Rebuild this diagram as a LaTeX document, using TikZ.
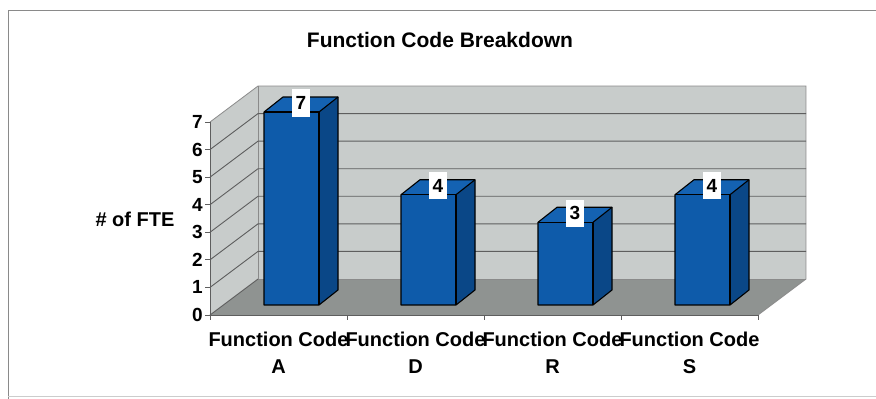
\documentclass[tikz,border=0pt]{standalone}
\usepackage{fontspec}
\setmainfont{Liberation Sans}
\definecolor{wallgray}{HTML}{C8CCCB}
\definecolor{floorgray}{HTML}{8F9391}
\definecolor{gridgray}{HTML}{5E5E5E}
\definecolor{barfront}{HTML}{0E5BAA}
\definecolor{barside}{HTML}{0A4787}
\definecolor{bartop}{HTML}{1462B2}
\definecolor{framegray}{HTML}{8A8A8A}
\tikzset{
  lbl/.style={font=\bfseries\fontsize{20}{27}\selectfont, inner sep=0pt},
  ticklbl/.style={font=\bfseries\fontsize{19}{22}\selectfont, inner sep=0pt},
  vallbl/.style={font=\bfseries\fontsize{19}{22}\selectfont, fill=white, inner xsep=3pt, inner ysep=7pt, minimum width=18pt},
  barline/.style={draw=black, line width=1.1pt, line join=round},
  gridln/.style={draw=gridgray, line width=0.9pt},
}
\begin{document}
\begin{tikzpicture}[x=1pt,y=-1pt]
\useasboundingbox (0,0) rectangle (876,399);
% outer frame
\draw[framegray, line width=1pt] (8,399) -- (8,10) -- (876,10);
\draw[black!20, line width=0.6pt] (8,396) -- (876,396);
% title
\node[font=\bfseries\fontsize{21}{24}\selectfont] (title) at (440,40) {Function Code Breakdown};
\def\u{27.57}
% walls and floor
\coordinate (F0) at (210,315);
\coordinate (F1) at (758,315);
\coordinate (B0) at (258,279);
\coordinate (B1) at (806,279);
\coordinate (LT) at (210,122);
\coordinate (BT0) at (258,86);
\coordinate (BT1) at (806,86);
\fill[wallgray] (F0) -- (LT) -- (BT0) -- (B0) -- cycle;
\fill[wallgray] (B0) -- (BT0) -- (BT1) -- (B1) -- cycle;
\fill[floorgray] (F0) -- (B0) -- (B1) -- (F1) -- cycle;
\draw[framegray, line width=0.8pt] (LT) -- (BT0) -- (BT1) -- (B1) -- (F1);
\draw[framegray, line width=0.8pt] (BT0) -- (B0) -- (B1);
\foreach \k in {1,...,6}{
  \draw[gridln] (210,315-\k*\u) -- (258,279-\k*\u) -- (806,279-\k*\u);
}
\draw[gridln] (B0) -- (F0);
% axes
\draw[gridgray, line width=1pt] (F1) -- (F0) -- (LT);
\foreach \k in {0,...,7}{
  \draw[gridgray, line width=1pt] (210,315-\k*\u) -- (205,315-\k*\u);
  \node[ticklbl, anchor=east] (t\k) at (203,315-\k*\u) {\k};
}
\foreach \j in {0,...,4}{
  \draw[gridgray, line width=1pt] (210+\j*137,315) -- (210+\j*137,320);
}
\node[lbl] (ylab) at (135,219) {\# of FTE};
% bars
\foreach \i/\v/\c in {0/7/A,1/4/D,2/3/R,3/4/S}{
  \pgfmathsetmacro{\cx}{210+137*(\i+0.5)+13}
  \pgfmathsetmacro{\xl}{\cx-27.5}
  \pgfmathsetmacro{\xr}{\cx+27.5}
  \pgfmathsetmacro{\yt}{305-\u*\v}
  \fill[barside] (\xr,305) -- (\xr+19,290) -- (\xr+19,\yt-15) -- (\xr,\yt) -- cycle;
  \fill[bartop] (\xl,\yt) -- (\xl+19,\yt-15) -- (\xr+19,\yt-15) -- (\xr,\yt) -- cycle;
  \fill[barfront] (\xl,\yt) rectangle (\xr,305);
  \draw[barline] (\xl,305) -- (\xl,\yt) -- (\xl+19,\yt-15) -- (\xr+19,\yt-15) -- (\xr+19,290) -- (\xr,305) -- cycle;
  \draw[barline] (\xl,\yt) -- (\xr,\yt) -- (\xr,305);
  \draw[barline] (\xr,\yt) -- (\xr+19,\yt-15);
  \node[vallbl] (v\c) at (\cx+9.5,\yt-9) {\v};
  \node[lbl, align=center] (c\c) at (210+137*\i+68.5,353) {Function Code\\\c};
}
\end{tikzpicture}
\end{document}
